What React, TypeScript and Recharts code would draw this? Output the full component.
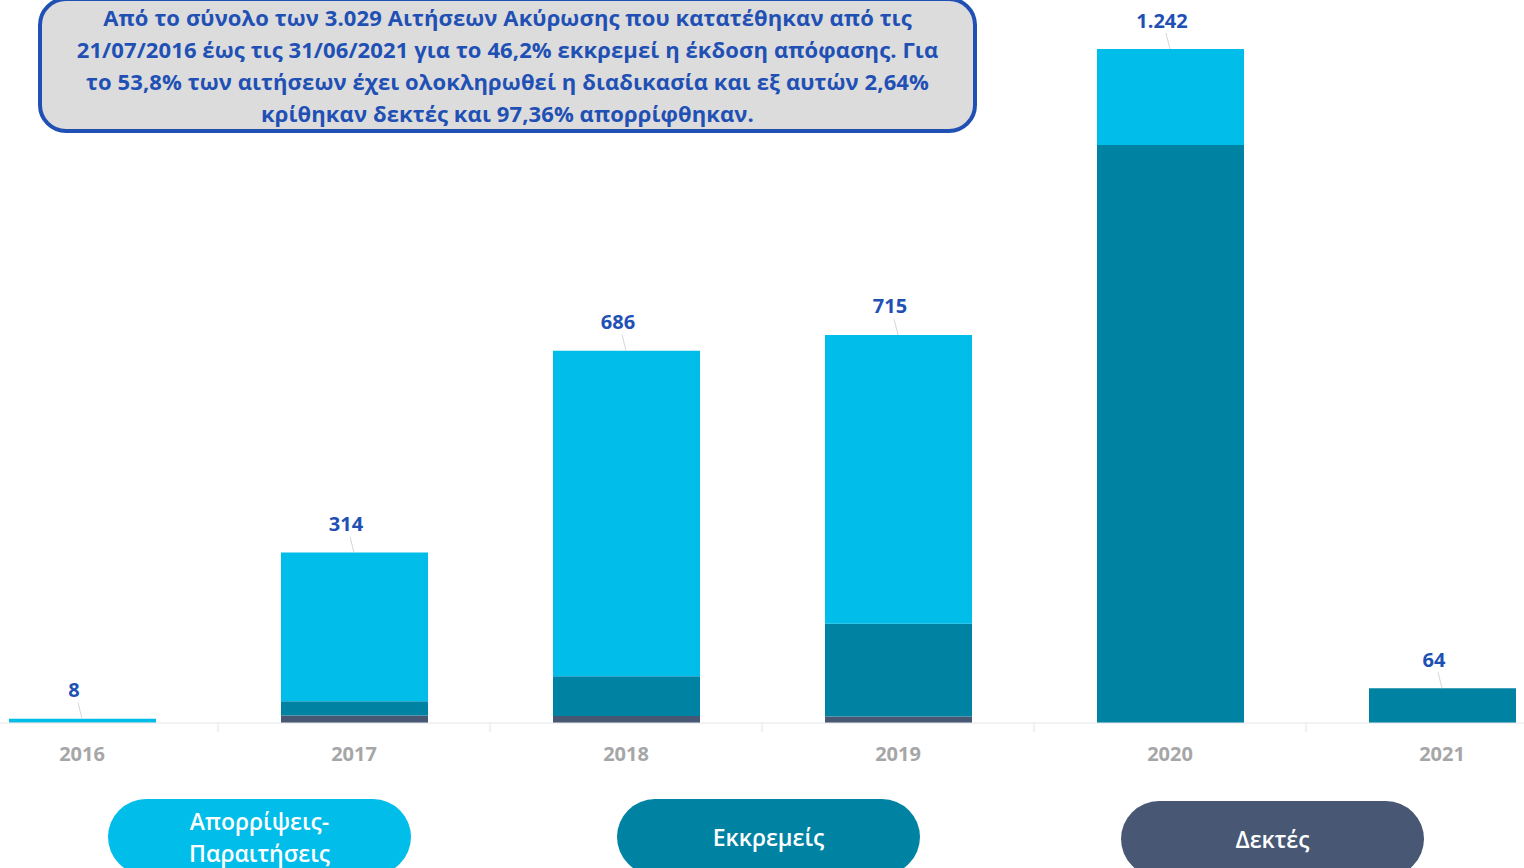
import React from "react";
import { ComposedChart, Bar, Line, XAxis, YAxis } from "recharts";

// ---------- Data ----------

const YEARS = ["2016", "2017", "2018", "2019", "2020", "2021"];
const ACCEPTED = [0, 14, 13, 12, 0, 0];
const PENDING = [1, 26, 73, 171, 1065, 64];
const REJECTED = [7, 274, 600, 532, 177, 0];
const TOTALS = [8, 314, 686, 715, 1242, 64];

const SERIES = [
    { key: "accepted", name: "Δεκτές", color: "#475774" },
    { key: "pending", name: "Εκκρεμείς", color: "#0083A3" },
    { key: "rejected", name: "Απορρίψεις-Παραιτήσεις", color: "#00BDEA" },
];

const TITLE_LINES = [
    "Από το σύνολο των 3.029 Αιτήσεων Ακύρωσης που κατατέθηκαν από τις",
    "21/07/2016 έως τις 31/06/2021 για το 46,2% εκκρεμεί η έκδοση απόφασης. Για",
    "το 53,8% των αιτήσεων έχει ολοκληρωθεί η διαδικασία και εξ αυτών 2,64%",
    "κρίθηκαν δεκτές και 97,36% απορρίφθηκαν.",
];

const data = YEARS.map((year, i) => ({
    year,
    accepted: ACCEPTED[i],
    pending: PENDING[i],
    rejected: REJECTED[i],
    total: TOTALS[i],
}));

// ---------- Helpers ----------

const FONT = "'Open Sans', 'Noto Sans', sans-serif";
const BLUE = "#2150B5";

// greek thousands separator
const formatGreek = (v: number) => String(v).replace(/\B(?=(\d{3})+(?!\d))/g, ".");

const TotalLabel = (props: any) => {
    const { x, y, value } = props;
    if (x == null || y == null) return null;
    return (
        <g>
            <line x1={x - 4} y1={y - 16} x2={x} y2={y} stroke="#d6d6d6" strokeWidth={1} />
            <text
                x={x - 8}
                y={y - 29}
                textAnchor="middle"
                dominantBaseline="central"
                fill={BLUE}
                fontFamily={FONT}
                fontWeight={700}
                fontSize={20}
            >
                {formatGreek(value)}
            </text>
        </g>
    );
};

const YearTick = (props: any) => {
    const { x, y, payload } = props;
    return (
        <g>
            <line x1={x + 136} y1={y} x2={x + 136} y2={y + 9} stroke="#e3e3e3" strokeWidth={1} />
            <text
                x={x}
                y={y + 30}
                textAnchor="middle"
                dominantBaseline="central"
                fill="#A6A6A6"
                fontFamily={FONT}
                fontWeight={700}
                fontSize={20}
            >
                {payload.value}
            </text>
        </g>
    );
};

const LEGEND_POS = [
    { key: "rejected", left: 108, top: 799, lines: ["Απορρίψεις-", "Παραιτήσεις"] },
    { key: "pending", left: 617, top: 799, lines: ["Εκκρεμείς"] },
    { key: "accepted", left: 1121, top: 801, lines: ["Δεκτές"] },
];

export default function App() {
    return (
        <div
            style={{
                position: "absolute",
                left: 0,
                top: 0,
                width: 1524,
                height: 868,
                overflow: "hidden",
                background: "#ffffff",
                fontFamily: FONT,
            }}
        >
            <div style={{ position: "absolute", left: -54, top: 0 }}>
                <ComposedChart
                    width={1632}
                    height={790}
                    data={data}
                    margin={{ top: 49, right: 0, left: 0, bottom: 0 }}
                >
                    <XAxis
                        dataKey="year"
                        height={67}
                        axisLine={{ stroke: "#e6e6e6" }}
                        tickLine={false}
                        tickSize={0}
                        tickMargin={0}
                        tick={<YearTick />}
                        interval={0}
                    />
                    <YAxis hide domain={[0, 1242]} allowDataOverflow />
                    {SERIES.map((s) => (
                        <Bar
                            key={s.key}
                            dataKey={s.key}
                            name={s.name}
                            stackId="a"
                            fill={s.color}
                            barSize={147}
                            isAnimationActive={false}
                        />
                    ))}
                    <Line
                        dataKey="total"
                        stroke="none"
                        dot={false}
                        activeDot={false}
                        legendType="none"
                        isAnimationActive={false}
                        label={<TotalLabel />}
                    />
                </ComposedChart>
            </div>

            {/* Summary box */}
            <div
                style={{
                    position: "absolute",
                    left: 38,
                    top: -3,
                    width: 931,
                    height: 128,
                    border: `4px solid ${BLUE}`,
                    borderRadius: 28,
                    background: "#DCDCDC",
                    color: BLUE,
                    fontWeight: 700,
                    fontSize: 22,
                    lineHeight: "32px",
                    textAlign: "center",
                    letterSpacing: 0.1,
                }}
            >
                {TITLE_LINES.map((l) => (
                    <div key={l} style={{ whiteSpace: "nowrap" }}>
                        {l}
                    </div>
                ))}
            </div>

            {/* Legend pills */}
            {LEGEND_POS.map((p) => {
                const s = SERIES.find((x) => x.key === p.key)!;
                return (
                    <div
                        key={p.key}
                        style={{
                            position: "absolute",
                            left: p.left,
                            top: p.top,
                            width: 303,
                            height: 76,
                            borderRadius: 38,
                            background: s.color,
                            color: "#ffffff",
                            display: "flex",
                            flexDirection: "column",
                            alignItems: "center",
                            justifyContent: "center",
                            fontSize: 23,
                            fontWeight: 600,
                            lineHeight: "32px",
                        }}
                    >
                        {p.lines.map((l) => (
                            <div key={l}>{l}</div>
                        ))}
                    </div>
                );
            })}
        </div>
    );
}
